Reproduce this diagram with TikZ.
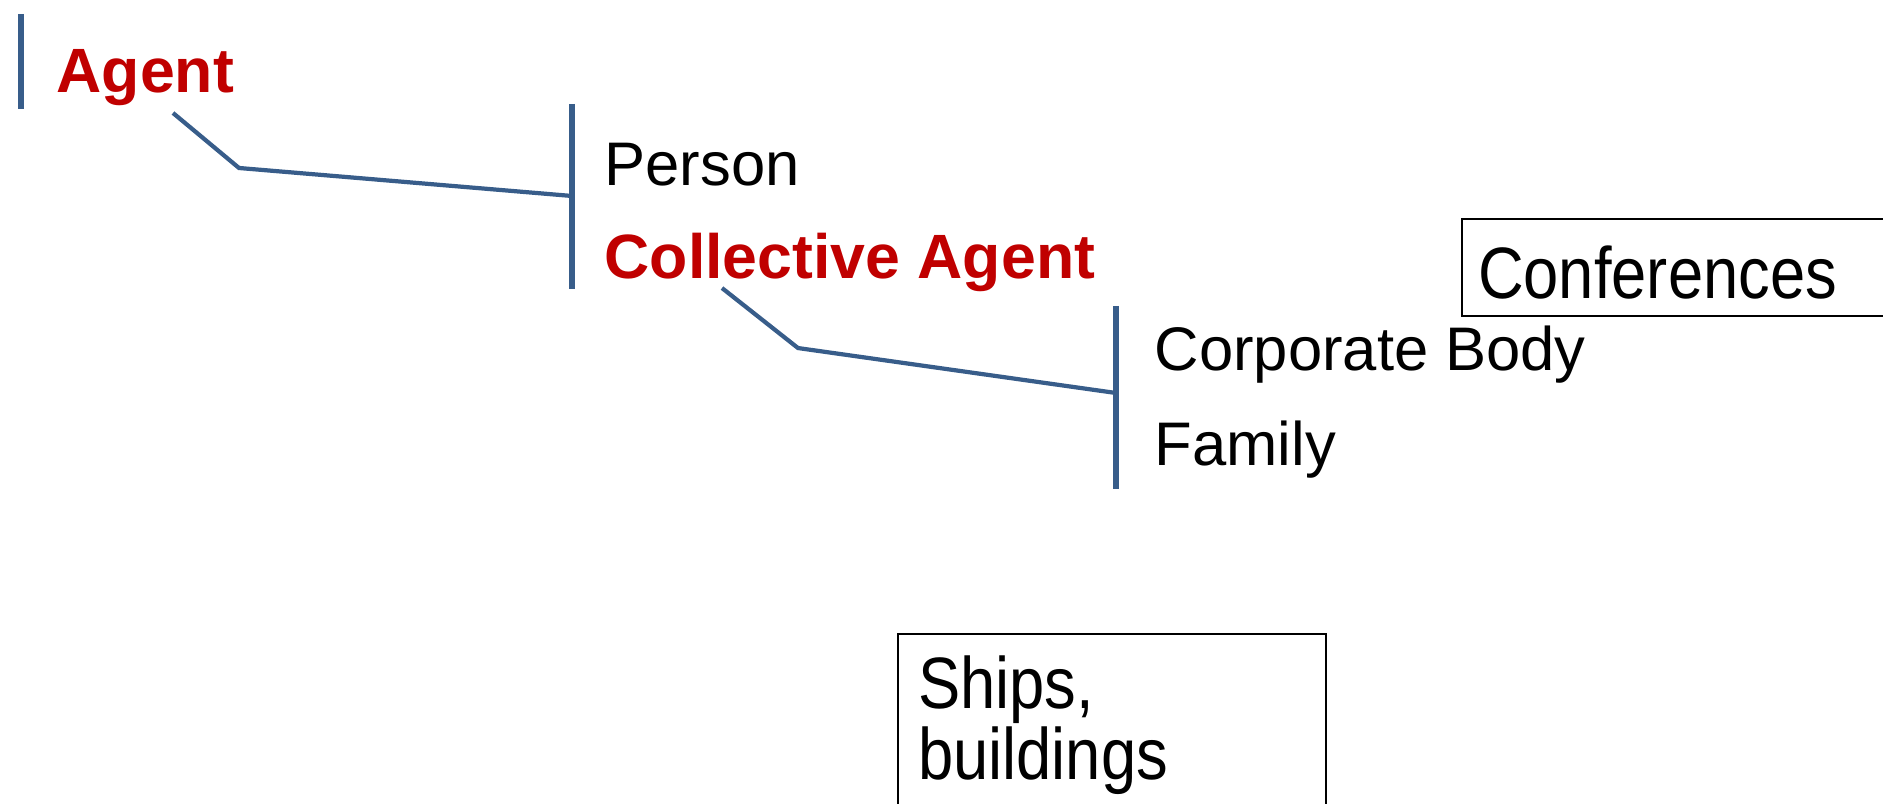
\documentclass[tikz,border=0pt]{standalone}
\usepackage{fontspec}
\setmainfont{Liberation Sans}
\usetikzlibrary{positioning}
\usetikzlibrary{calc}
\definecolor{linkblue}{HTML}{385D8A}
\definecolor{agentred}{HTML}{C00000}
\newcommand{\tallbox}[1]{\scalebox{1}[1.15]{#1}}

\begin{document}
\begin{tikzpicture}[
    x=0.01cm, y=-0.01cm,
    entity/.style={anchor=base west,inner sep=0pt,font=\fontsize{17.5}{20}\selectfont},
    parentnode/.style={entity,text=agentred,font=\fontsize{17.8}{21}\selectfont\bfseries},
    bar/.style={draw=linkblue,line width=1.5pt},
    link/.style={draw=linkblue,line width=1.2pt},
    notebox/.style={draw=black,line width=0.6pt,anchor=north west,inner ysep=0pt,font=\fontsize{18}{17.6}\selectfont}
    ]

    \clip (0,0) rectangle (1883,804);

    \node[parentnode] (agent) at (56,93) {Agent};
    \node[entity] (person) at (604,186) {Person};
    \node[parentnode, below=0.92cm of person.base west, anchor=base west] (coll) {Collective Agent};
    \node[entity] (corp) at (1154,371) {Corporate Body};
    \node[entity, below=0.94cm of corp.base west, anchor=base west] (family) {Family};

    \node[notebox, inner xsep=0.16cm, text width=4.1cm, minimum height=0.97cm,
      text height=0.61cm, text depth=0cm] (conf) at (1461,218) {\tallbox{Conferences}};
    \node[notebox, inner xsep=0.2cm, text height=0.74cm, text depth=1.2cm]
      (ships) at (897,633) {\tallbox{\parbox[t]{3.88cm}{Ships,\\buildings}}};

    % brackets
    \coordinate (abar-top) at (21,14);
    \coordinate (abar-bot) at (21,109);
    \coordinate (pbar-top) at (572,104);
    \coordinate (pbar-mid) at (572,196);
    \coordinate (pbar-bot) at (572,289);
    \coordinate (cbar-top) at (1116,306);
    \coordinate (cbar-mid) at (1116,393);
    \coordinate (cbar-bot) at (1116,489);
    \draw[bar] (abar-top) -- (abar-bot);
    \draw[bar] (pbar-top) -- (pbar-bot);
    \draw[bar] (cbar-top) -- (cbar-bot);

    \coordinate (agent-tail) at ($(agent.base west)+(117,20)$);
    \coordinate (coll-tail) at ($(coll.base west)+(118,10)$);
    \draw[link] (agent-tail) -- ++(66,55) -- (pbar-mid);
    \draw[link] (coll-tail) -- ++(76,60) -- (cbar-mid);

  \end{tikzpicture}
\end{document}
